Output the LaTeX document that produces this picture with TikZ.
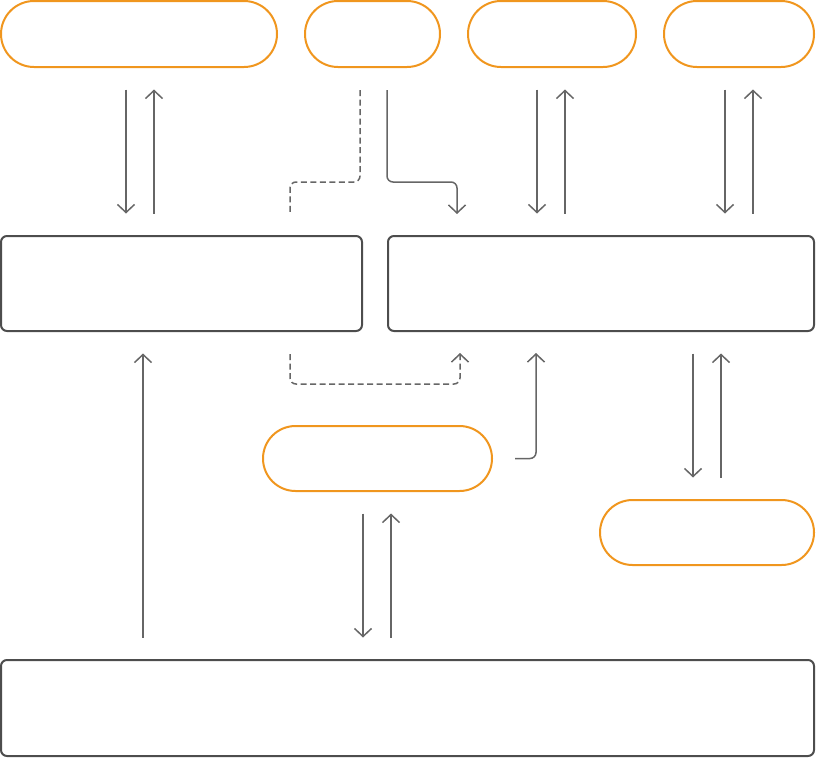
\documentclass[tikz,border=0pt]{standalone}
\usepackage{tikz}
\usetikzlibrary{shapes.misc,arrows.meta}

\definecolor{pillorange}{RGB}{240,150,30}
\definecolor{boxgray}{RGB}{77,77,77}
\definecolor{arrowgray}{RGB}{102,102,102}

\begin{document}
\begin{tikzpicture}[x=1pt,y=-1pt,
  pill/.style={rounded rectangle, draw=pillorange, line width=2pt, inner sep=0pt, minimum height=66pt},
  box/.style={rectangle, rounded corners=6pt, draw=boxgray, line width=2pt, inner sep=0pt},
  flow/.style={draw=arrowgray, line width=1.5pt, -{Straight Barb[length=8pt,width=17pt]}},
  gap/.style={shorten <=21.5pt, shorten >=21.5pt},
  dashline/.style={draw=arrowgray, line width=1.5pt, dash pattern=on 6pt off 3.5pt}]

\useasboundingbox (0,0) rectangle (816,758);

% top row
\node[pill, minimum width=276pt] (p1) at (139,34) {};
\node[pill, minimum width=135pt] (p2) at (372.5,34) {};
\node[pill, minimum width=168pt] (p3) at (552,34) {};
\node[pill, minimum width=150pt] (p4) at (739,34) {};

% middle boxes
\node[box, minimum width=361pt, minimum height=95pt] (b1) at (181.5,283.5) {};
\node[box, minimum width=426pt, minimum height=95pt] (b2) at (601,283.5) {};

\node[pill, minimum width=229pt, minimum height=65pt] (p5) at (377.5,458.5) {};
\node[pill, minimum width=214pt, minimum height=65pt] (p6) at (707,532.5) {};

% bottom box
\node[box, minimum width=813pt, minimum height=96pt] (b3) at (407.5,708) {};

% top row <-> boxes
\draw[flow,gap] ([xshift=-13pt]p1.south) -- ([xshift=-13pt]p1.south |- b1.north);
\draw[flow,gap] ([xshift=15pt]p1.south |- b1.north) -- ([xshift=15pt]p1.south);

\draw[dashline,rounded corners=6pt] ([xshift=-12.5pt,yshift=-22pt]p2.south) |- ([xshift=108.5pt,yshift=53pt]b1.north) -- ([xshift=108.5pt,yshift=22pt]b1.north);
\draw[flow,rounded corners=6pt] ([xshift=14.5pt,yshift=-22pt]p2.south) |- ([xshift=-144pt,yshift=53pt]b2.north) -- ([xshift=-144pt,yshift=21pt]b2.north);

\draw[flow,gap] ([xshift=-15pt]p3.south) -- ([xshift=-15pt]p3.south |- b2.north);
\draw[flow,gap] ([xshift=13pt]p3.south |- b2.north) -- ([xshift=13pt]p3.south);

\draw[flow,gap] ([xshift=-14pt]p4.south) -- ([xshift=-14pt]p4.south |- b2.north);
\draw[flow,gap] ([xshift=14pt]p4.south |- b2.north) -- ([xshift=14pt]p4.south);

% between the boxes
\draw[flow,dash pattern=on 6pt off 3.5pt,rounded corners=6pt] ([xshift=108.5pt,yshift=-22pt]b1.south) |- ([xshift=-141pt,yshift=-52pt]b2.south) -- ([xshift=-141pt,yshift=-21pt]b2.south);
\draw[flow,rounded corners=6pt] ([xshift=22pt]p5.east) -| ([xshift=-65pt,yshift=-21pt]b2.south);

\draw[flow,gap] ([xshift=-14pt]p6.north |- b2.south) -- ([xshift=-14pt]p6.north);
\draw[flow,gap] ([xshift=14pt]p6.north) -- ([xshift=14pt]p6.north |- b2.south);

% bottom
\draw[flow,gap] ([xshift=-38.5pt]b1.south |- b3.north) -- ([xshift=-38.5pt]b1.south);
\draw[flow,gap] ([xshift=-14.5pt]p5.south) -- ([xshift=-14.5pt]p5.south |- b3.north);
\draw[flow,gap] ([xshift=13.5pt]p5.south |- b3.north) -- ([xshift=13.5pt]p5.south);

\end{tikzpicture}
\end{document}
